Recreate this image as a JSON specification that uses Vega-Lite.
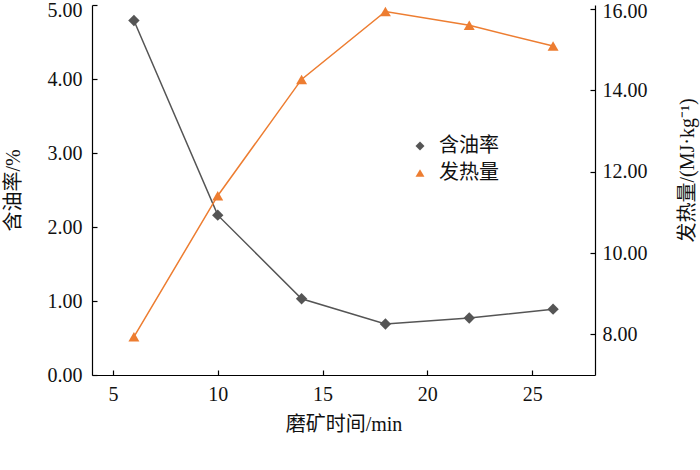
{
  "$schema": "https://vega.github.io/schema/vega-lite/v6.json",
  "width": 503,
  "height": 370,
  "autosize": {"type": "none"},
  "padding": {"left": 92, "top": 5, "right": 105, "bottom": 95},
  "background": "white",
  "config": {
    "view": {"stroke": null},
    "axis": {
      "grid": false,
      "domainColor": "#000000",
      "tickColor": "#000000",
      "labelColor": "#111111",
      "titleColor": "#111111",
      "labelFont": "Liberation Serif",
      "titleFont": "Liberation Serif, Noto Sans CJK SC",
      "labelFontSize": 20,
      "titleFontSize": 20,
      "titleFontWeight": "normal",
      "domainWidth": 1.2,
      "tickWidth": 1.2
    },
    "legend": {
      "labelFont": "Noto Sans CJK SC",
      "labelFontSize": 20,
      "labelColor": "#111111"
    }
  },
  "data": {
    "values": [
      {"time": 6, "series": "含油率", "v": 4.79},
      {"time": 10, "series": "含油率", "v": 2.16},
      {"time": 14, "series": "含油率", "v": 1.03},
      {"time": 18, "series": "含油率", "v": 0.69},
      {"time": 22, "series": "含油率", "v": 0.77},
      {"time": 26, "series": "含油率", "v": 0.89},
      {"time": 6, "series": "发热量", "v": 7.94},
      {"time": 10, "series": "发热量", "v": 11.41},
      {"time": 14, "series": "发热量", "v": 14.27},
      {"time": 18, "series": "发热量", "v": 15.94},
      {"time": 22, "series": "发热量", "v": 15.6},
      {"time": 26, "series": "发热量", "v": 15.09}
    ]
  },
  "encoding": {
    "x": {
      "field": "time",
      "type": "quantitative",
      "scale": {"domain": [4, 28], "nice": false, "zero": false},
      "axis": {
        "title": "磨矿时间/min",
        "values": [5, 10, 15, 20, 25],
        "tickSize": -5,
        "labelPadding": 14,
        "titlePadding": 10
      }
    }
  },
  "layer": [
    {
      "transform": [{"filter": "datum.series === '含油率'"}],
      "encoding": {
        "y": {
          "field": "v",
          "type": "quantitative",
          "scale": {"domain": [0, 5], "nice": false},
          "axis": {
            "orient": "left",
            "title": "含油率/%",
            "values": [0, 1, 2, 3, 4, 5],
            "format": ".2f",
            "tickSize": -5,
            "labelPadding": 15,
            "titleX": -79,
            "titleY": 185,
            "titleBaseline": "middle",
            "titleAngle": 270,
            "labelOffset": {"condition": {"test": "datum.value === 5", "value": 5}, "value": 0}
          }
        }
      },
      "layer": [
        {"mark": {"type": "line", "color": "#555555", "strokeWidth": 1.5}},
        {
          "mark": {"type": "point", "filled": true, "opacity": 1, "size": 130},
          "encoding": {
            "color": {
              "field": "series",
              "type": "nominal",
              "scale": {"domain": ["含油率", "发热量"], "range": ["#555555", "#ED7D31"]},
              "legend": {
                "title": null,
                "orient": "none",
                "legendX": 318,
                "legendY": 131,
                "symbolSize": 80,
                "rowPadding": 7,
                "labelOffset": 9
              }
            },
            "shape": {
              "field": "series",
              "type": "nominal",
              "scale": {"domain": ["含油率", "发热量"], "range": ["diamond", "triangle-up"]},
              "legend": {
                "title": null,
                "orient": "none",
                "legendX": 318,
                "legendY": 131,
                "symbolSize": 80,
                "rowPadding": 7,
                "labelOffset": 9
              }
            }
          }
        }
      ]
    },
    {
      "transform": [{"filter": "datum.series === '发热量'"}],
      "encoding": {
        "y": {
          "field": "v",
          "type": "quantitative",
          "scale": {"domain": [7, 16.1], "nice": false, "zero": false},
          "axis": {
            "orient": "right",
            "title": "发热量/(MJ·kg⁻¹)",
            "titleAngle": 270,
            "titleX": 92,
            "titleY": 165,
            "titleBaseline": "middle",
            "values": [8, 10, 12, 14, 16],
            "format": ".2f",
            "tickSize": -5,
            "labelPadding": 12,
            "labelOffset": {"condition": {"test": "datum.value === 16", "value": 2}, "value": 0}
          }
        }
      },
      "layer": [
        {"mark": {"type": "line", "color": "#ED7D31", "strokeWidth": 1.5}},
        {
          "mark": {"type": "point", "filled": true, "opacity": 1, "size": 120},
          "encoding": {
            "color": {"field": "series", "type": "nominal"},
            "shape": {"field": "series", "type": "nominal"}
          }
        }
      ]
    }
  ],
  "resolve": {"scale": {"y": "independent"}}
}
